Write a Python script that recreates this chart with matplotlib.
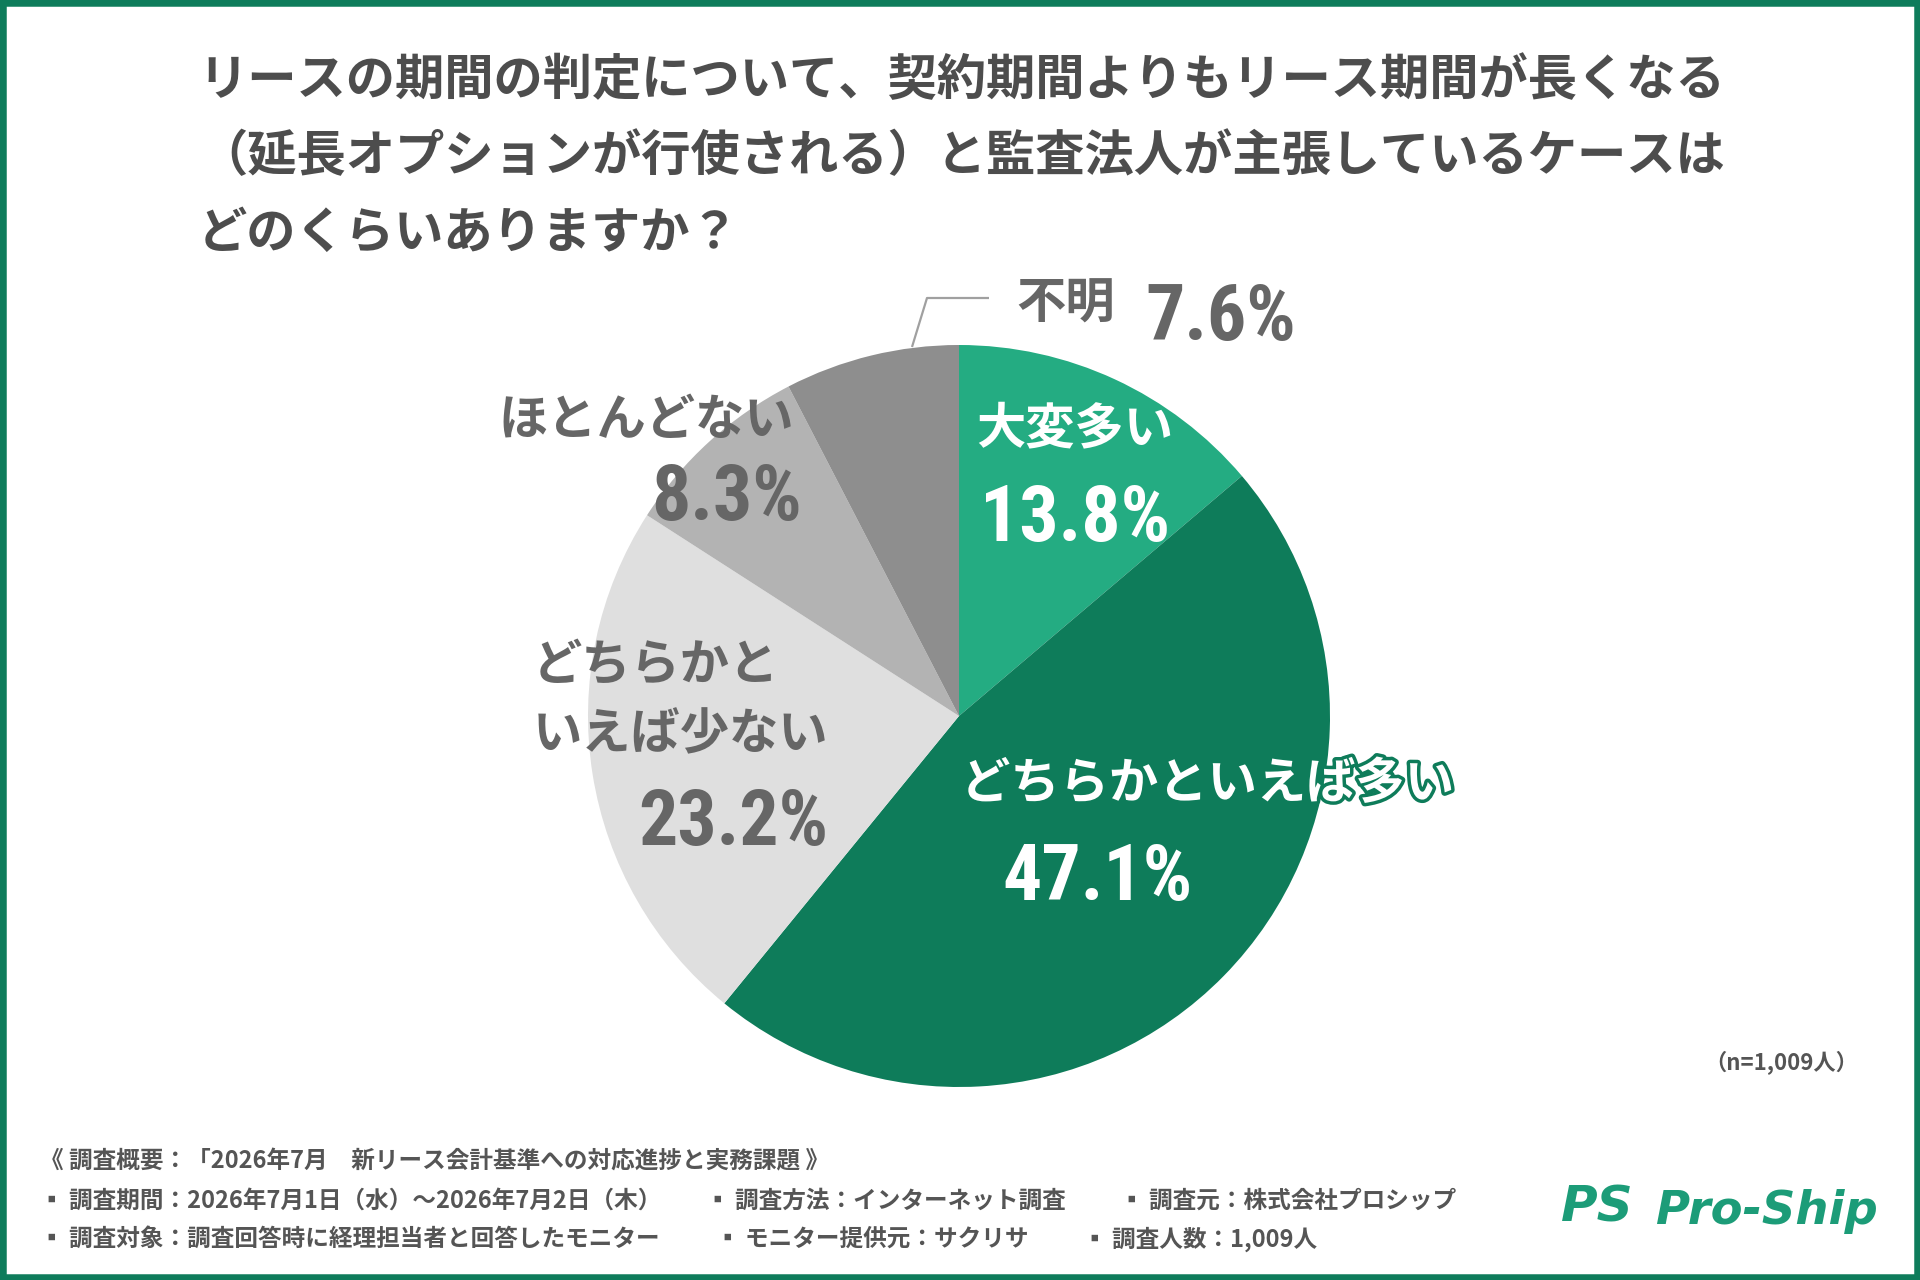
import matplotlib
matplotlib.use("Agg")
import matplotlib.pyplot as plt
from matplotlib import font_manager as fm
from matplotlib.patches import Rectangle
import matplotlib.patheffects as pe

# ---------------- data ----------------
categories = ["大変多い", "どちらかといえば多い", "どちらかといえば少ない", "ほとんどない", "不明"]
values = [13.8, 47.1, 23.2, 8.3, 7.6]
colors = ["#24AC82", "#0E7C5A", "#DFDFDF", "#B3B3B3", "#8E8E8E"]

title_lines = [
    "リースの期間の判定について、契約期間よりもリース期間が長くなる",
    "（延長オプションが行使される）と監査法人が主張しているケースは",
    "どのくらいありますか？",
]
footer_head = "《 調査概要：「2026年7月　新リース会計基準への対応進捗と実務課題 》"
footer_items = [
    ["▪ 調査期間：2026年7月1日（水）～2026年7月2日（木）", "▪ 調査方法：インターネット調査", "▪ 調査元：株式会社プロシップ"],
    ["▪ 調査対象：調査回答時に経理担当者と回答したモニター", "▪ モニター提供元：サクリサ", "▪ 調査人数：1,009人"],
]
n_note = "（n=1,009人）"

JP = ["Noto Sans CJK JP", "DejaVu Sans"]

# condensed font for percentages
names = {f.name for f in fm.fontManager.ttflist}
cond_prop = None
for nm in ["Liberation Sans Narrow", "Roboto Condensed", "DejaVu Sans Condensed"]:
    if nm in names:
        cond_prop = dict(family=nm, fontweight="bold")
        break
if cond_prop is None:
    fpath = None
    for f in fm.fontManager.ttflist:
        if "Condensed-Bold" in f.fname and "Oblique" not in f.fname:
            fpath = f.fname
            break
    if fpath:
        cond_prop = dict(fontproperties=fm.FontProperties(fname=fpath))
    else:
        cond_prop = dict(family="Roboto", fontweight="bold")

W, H = 1920, 1280
fig = plt.figure(figsize=(19.2, 12.8), dpi=100)
ax = fig.add_axes([0, 0, 1, 1])
ax.set_xlim(0, W)
ax.set_ylim(0, H)
ax.set_aspect("equal")
ax.axis("off")


def Y(y):
    return H - y


# pie
ax.pie(values, colors=colors, startangle=90, counterclock=False,
       center=(959, Y(716)), radius=371,
       wedgeprops=dict(linewidth=0, edgecolor="none"))
ax.set_xlim(0, W)
ax.set_ylim(0, H)

# title
TC = "#4D4D4D"
for i, line in enumerate(title_lines):
    ax.text(198, Y(81 + 76 * i), line, family=JP, fontweight="bold",
            fontsize=35.5, color=TC, ha="left", va="center")

GC = "#666666"
JS = 35.5
PS = 56

if cond_prop.get("family") == "Roboto":
    PS = 54

# 大変多い
ax.text(976, Y(429), categories[0], family=JP, fontweight="bold", fontsize=JS,
        color="white", ha="left", va="center")
ax.text(980, Y(541), f"{values[0]}%", fontsize=PS, color="white",
        ha="left", va="baseline", **cond_prop)

# どちらかといえば多い
ax.text(961, Y(784), categories[1], family=JP, fontweight="bold", fontsize=JS,
        color="white", ha="left", va="center",
        path_effects=[pe.Stroke(linewidth=5, foreground=colors[1]), pe.Normal()])
ax.text(1002, Y(900), f"{values[1]}%", fontsize=PS, color="white",
        ha="left", va="baseline", **cond_prop)

# どちらかといえば少ない
ax.text(533, Y(665), "どちらかと", family=JP, fontweight="bold", fontsize=JS,
        color=GC, ha="left", va="center")
ax.text(533, Y(735), "いえば少ない", family=JP, fontweight="bold", fontsize=JS,
        color=GC, ha="left", va="center")
ax.text(828, Y(845), f"{values[2]}%", fontsize=PS, color=GC,
        ha="right", va="baseline", **cond_prop)

# ほとんどない
ax.text(498, Y(420), categories[3], family=JP, fontweight="bold", fontsize=JS,
        color=GC, ha="left", va="center")
ax.text(802, Y(520), f"{values[3]}%", fontsize=PS, color=GC,
        ha="right", va="baseline", **cond_prop)

# 不明 with leader line
ax.plot([912, 927, 989], [Y(347), Y(298), Y(298)], color="#A0A0A0", lw=1.6,
        solid_capstyle="butt")
ax.text(1016, Y(304), categories[4], family=JP, fontweight="bold", fontsize=JS,
        color=GC, ha="left", va="center")
ax.text(1145, Y(340), f"{values[4]}%", fontsize=PS, color=GC,
        ha="left", va="baseline", **cond_prop)

# n note
ax.text(1858, Y(1063), n_note, family=JP, fontweight="bold", fontsize=16,
        color="#555555", ha="right", va="center")

# footer
FC = "#555555"
FS = 17
ax.text(40, Y(1161), footer_head, family=JP, fontweight="bold", fontsize=FS,
        color=FC, ha="left", va="center")
xs = [[40, 706, 1120], [40, 716, 1083]]
for r, row in enumerate(footer_items):
    for c, item in enumerate(row):
        ax.text(xs[r][c], Y(1201 + 38 * r), item, family=JP, fontweight="bold",
                fontsize=FS, color=FC, ha="left", va="center")

# logo
LC = "#1C9C78"
ax.text(1561, Y(1208), "PS", family="DejaVu Sans", fontweight="bold",
        fontstyle="italic", fontsize=36, color=LC, ha="left", va="center")
ax.text(1655, Y(1212), "Pro-Ship", family="DejaVu Sans", fontweight="bold",
        fontstyle="italic", fontsize=33.5, color=LC, ha="left", va="center")

# border
fig.patches.append(Rectangle((0, 0), 1, 1, transform=fig.transFigure,
                             fill=False, edgecolor="#0E7C5B", linewidth=9))

fig.savefig("out.png", dpi=100, facecolor="white")
